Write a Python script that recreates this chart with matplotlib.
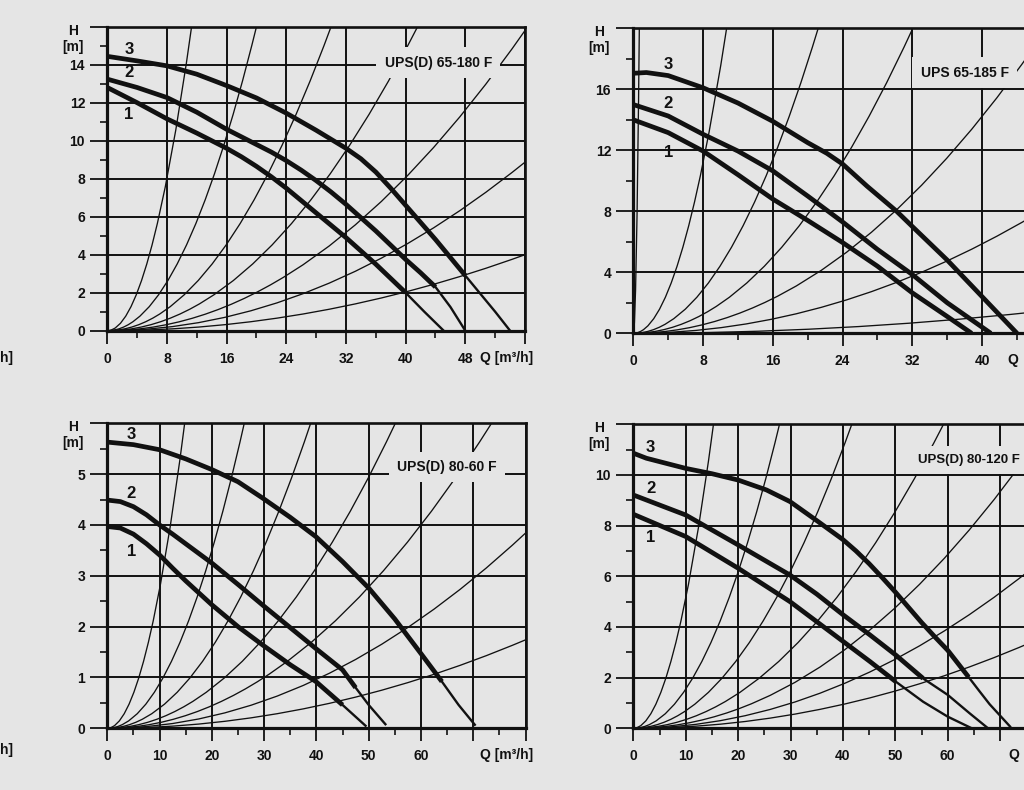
import matplotlib
matplotlib.use('Agg')
import matplotlib.pyplot as plt
from matplotlib.path import Path
from matplotlib.patches import PathPatch

W, H = 1024, 790
BG = '#e5e5e5'
INK = '#111111'

# ---- UPS(D) 65-180 F ----
p1_title = "UPS(D) 65-180 F"
p1_q1 = [0, 4, 8, 12, 14, 16, 18, 20, 22, 24, 26, 28, 30, 32, 34, 36, 38, 40, 42.5, 45.1]
p1_h1 = [12.8, 12.0, 11.15, 10.4, 10.0, 9.6, 9.15, 8.65, 8.1, 7.5, 6.85, 6.2, 5.55, 4.9, 4.2, 3.5, 2.75, 2.0, 1.0, 0.0]
p1_q2 = [0, 4, 8, 12, 16, 20, 22, 24, 26, 28, 30, 32, 34, 36, 38, 40, 42, 44, 46, 48]
p1_h2 = [13.24, 12.8, 12.27, 11.5, 10.6, 9.8, 9.4, 8.95, 8.45, 7.9, 7.3, 6.65, 5.95, 5.25, 4.5, 3.75, 3.05, 2.3, 1.25, 0.0]
p1_q3 = [0, 4, 8, 12, 16, 20, 24, 28, 32, 34, 36, 38, 40, 42, 44, 46, 48, 50, 52, 54]
p1_h3 = [14.44, 14.2, 13.94, 13.5, 12.9, 12.25, 11.45, 10.55, 9.6, 9.05, 8.35, 7.5, 6.6, 5.7, 4.8, 3.85, 2.9, 1.95, 1.0, 0.0]
p1_thick_end = [40, 44, 48]
p1_sys_q = [11.3, 20.0, 30.0, 41.6, 56, 56, 56]
p1_sys_h = [16, 16, 16, 16, 15.8, 8.87, 4.0]
p1_xlabels = ['0', '8', '16', '24', '32', '40', '48']

# ---- UPS 65-185 F ----
p2_title = "UPS 65-185 F"
p2_q1 = [0, 4, 8, 12, 16, 20, 24, 28, 32, 36, 38.8]
p2_h1 = [14.0, 13.16, 11.95, 10.4, 8.8, 7.4, 5.95, 4.4, 2.65, 1.1, 0.0]
p2_q2 = [0, 4, 8, 12, 16, 20, 24, 28, 32, 36, 41]
p2_h2 = [15.0, 14.25, 13.05, 11.95, 10.65, 9.0, 7.3, 5.5, 3.85, 2.0, 0.0]
p2_q3 = [0, 1.5, 4, 8, 12, 16, 20, 22.2, 24, 26.8, 30.2, 32, 36, 40, 44]
p2_h3 = [17.05, 17.1, 16.9, 16.1, 15.1, 13.9, 12.5, 11.8, 11.1, 9.65, 8.0, 7.0, 4.8, 2.4, 0.0]
p2_thick_end = [38.8, 41, 44]
p2_sys_q = [0.69, 10.7, 21.2, 32.05, 46, 46, 46]
p2_sys_h = [20, 20, 20, 20, 18.8, 7.75, 1.40]
p2_xlabels = ['0', '8', '16', '24', '32', '40']

# ---- UPS(D) 80-60 F ----
p3_title = "UPS(D) 80-60 F"
p3_q1 = [0, 2.5, 5, 7.5, 10, 12.5, 15, 20, 25, 29.7, 35, 39.9, 45, 49.4]
p3_h1 = [3.97, 3.94, 3.82, 3.63, 3.41, 3.15, 2.9, 2.43, 2.0, 1.64, 1.25, 0.92, 0.46, 0.05]
p3_q2 = [0, 2.5, 5, 7.5, 10, 12.5, 15, 20, 25, 30, 35, 40, 45, 47.5, 50, 53.2]
p3_h2 = [4.49, 4.46, 4.36, 4.2, 4.0, 3.82, 3.63, 3.25, 2.83, 2.4, 1.98, 1.56, 1.15, 0.8, 0.46, 0.08]
p3_q3 = [0, 5, 10, 15, 20, 25, 29.7, 35, 39.9, 45, 50, 55, 60, 64, 67.2, 70.3]
p3_h3 = [5.63, 5.58, 5.48, 5.3, 5.09, 4.85, 4.53, 4.15, 3.77, 3.28, 2.76, 2.15, 1.47, 0.92, 0.46, 0.07]
p3_thick_end = [45, 47.5, 64]
p3_sys_q = [14.8, 26.2, 38.9, 55.1, 73.5, 80, 80]
p3_sys_h = [6, 6, 6, 6, 6, 3.84, 1.74]
p3_xlabels = ['0', '10', '20', '30', '40', '50', '60']

# ---- UPS(D) 80-120 F ----
p4_title = "UPS(D) 80-120 F"
p4_q1 = [0, 10, 20, 29.9, 35, 40.1, 45.2, 50.1, 55.3, 60, 64.6]
p4_h1 = [8.45, 7.57, 6.32, 5.0, 4.21, 3.42, 2.63, 1.84, 1.05, 0.46, 0.0]
p4_q2 = [0, 10, 20, 29.9, 35, 40.1, 45.2, 50.1, 55.3, 60, 64.2, 67.7]
p4_h2 = [9.21, 8.42, 7.24, 6.05, 5.3, 4.47, 3.68, 2.89, 1.97, 1.32, 0.59, 0.0]
p4_q3 = [0, 2.5, 10, 15, 20, 25.4, 29.9, 35, 40, 42.5, 45, 47.5, 50, 52.5, 55, 57.5, 60, 62, 64, 66, 68, 70, 71.9]
p4_h3 = [10.86, 10.66, 10.26, 10.05, 9.8, 9.41, 8.95, 8.2, 7.45, 7.0, 6.5, 5.95, 5.38, 4.78, 4.18, 3.62, 3.08, 2.55, 2.02, 1.48, 0.95, 0.5, 0.07]
p4_thick_end = [50.1, 55.3, 64]
p4_sys_q = [15.3, 27.9, 41.7, 59.2, 76, 76, 76]
p4_sys_h = [12, 12, 12, 12, 11.0, 6.3, 3.4]
p4_xlabels = ['0', '10', '20', '30', '40', '50', '60']

curve_names = ['1', '2', '3']

plt.rcParams['font.family'] = ['Liberation Sans', 'DejaVu Sans']
plt.rcParams['font.weight'] = 'bold'

panels = [
    dict(title=p1_title, curves=[(p1_q1, p1_h1), (p1_q2, p1_h2), (p1_q3, p1_h3)],
         thick=p1_thick_end, sys=(p1_sys_q, p1_sys_h), xlabels=p1_xlabels,
         rect=(107.3, 26.7, 525, 330.7), xmax=56, ymax=16, xs=8, ys=2,
         name_pos=[(2.9, 11.4), (2.9, 13.6), (2.9, 14.8)],
         title_pos=(44.4, 14.1), title_ha='center', title_fs=10,
         qlab=(50, 'Q [m³/h]')),
    dict(title=p2_title, curves=[(p2_q1, p2_h1), (p2_q2, p2_h2), (p2_q3, p2_h3)],
         thick=p2_thick_end, sys=(p2_sys_q, p2_sys_h), xlabels=p2_xlabels,
         rect=(633.3, 28.3, 1051.9, 333.3), xmax=48, ymax=20, xs=8, ys=4,
         name_pos=[(4, 11.85), (4, 15.1), (4, 17.65)],
         title_pos=(38.0, 17.1), title_ha='center', title_fs=10,
         qlab=(42.9, 'Q')),
    dict(title=p3_title, curves=[(p3_q1, p3_h1), (p3_q2, p3_h2), (p3_q3, p3_h3)],
         thick=p3_thick_end, sys=(p3_sys_q, p3_sys_h), xlabels=p3_xlabels,
         rect=(107.3, 423.3, 525.5, 728.3), xmax=80, ymax=6, xs=10, ys=1,
         name_pos=[(4.6, 3.48), (4.6, 4.61), (4.6, 5.77)],
         title_pos=(65.0, 5.14), title_ha='center', title_fs=10,
         qlab=(71.3, 'Q [m³/h]')),
    dict(title=p4_title, curves=[(p4_q1, p4_h1), (p4_q2, p4_h2), (p4_q3, p4_h3)],
         thick=p4_thick_end, sys=(p4_sys_q, p4_sys_h), xlabels=p4_xlabels,
         rect=(633.3, 424.3, 1052.5, 728.3), xmax=80, ymax=12, xs=10, ys=2,
         name_pos=[(3.3, 7.53), (3.3, 9.45), (3.3, 11.1)],
         title_pos=(54.4, 10.6), title_ha='left', title_fs=9.5,
         qlab=(71.5, 'Q')),
]

fig = plt.figure(figsize=(W / 100, H / 100), dpi=100, facecolor=BG)

for p in panels:
    l, t, r, b = p['rect']
    ax = fig.add_axes([l / W, 1 - b / H, (r - l) / W, (b - t) / H])
    ax.set_facecolor(BG)
    ax.set_xlim(0, p['xmax'])
    ax.set_ylim(0, p['ymax'])

    xt = list(range(0, p['xmax'] + 1, p['xs']))
    yt = list(range(0, p['ymax'] + 1, p['ys']))
    xl = p['xlabels'] + [''] * (len(xt) - len(p['xlabels']))
    yl = [str(v) for v in yt[:-1]] + ['']
    ax.set_xticks(xt, xl)
    ax.set_yticks(yt, yl)
    ax.set_xticks([v + p['xs'] / 2 for v in xt[:-1]], minor=True)
    ax.set_yticks([v + p['ys'] / 2 for v in yt[:-1]], minor=True)
    ax.tick_params(axis='x', which='major', length=9, width=1.3, pad=6,
                   colors=INK, labelsize=10)
    ax.tick_params(axis='y', which='major', length=12, width=1.3, pad=4,
                   colors=INK, labelsize=10)
    ax.tick_params(which='minor', length=5, width=1.2, colors=INK)
    ax.set_axisbelow(True)
    ax.grid(True, which='major', color=INK, lw=1.4)
    for side in ['left', 'bottom']:
        ax.spines[side].set_linewidth(2.3)
        ax.spines[side].set_color(INK)
    for side in ['top', 'right']:
        ax.spines[side].set_linewidth(1.9)
        ax.spines[side].set_color(INK)

    # system curves (parabolas through the origin)
    sq, sh = p['sys']
    for q_end, h_end in zip(sq, sh):
        path = Path([(0, 0), (q_end / 2, 0), (q_end, h_end)],
                    [Path.MOVETO, Path.CURVE3, Path.CURVE3])
        ax.add_patch(PathPatch(path, fill=False, ec=INK, lw=0.95, zorder=2))

    # pump curves 1, 2, 3
    for (q, h), qe in zip(p['curves'], p['thick']):
        thick = [(a, c) for a, c in zip(q, h) if a <= qe]
        thin = [(a, c) for a, c in zip(q, h) if a >= qe]
        ax.plot([a for a, c in thick], [c for a, c in thick], color=INK, lw=3.4,
                solid_joinstyle='round', solid_capstyle='butt', zorder=3)
        if len(thin) > 1:
            ax.plot([a for a, c in thin], [c for a, c in thin], color=INK, lw=1.7,
                    solid_joinstyle='round', zorder=3)

    for name, (nx, ny) in zip(curve_names, p['name_pos']):
        ax.text(nx, ny, name, fontsize=12, ha='center', va='center', color=INK, zorder=4)

    tx, ty = p['title_pos']
    ax.text(tx, ty, p['title'], fontsize=p['title_fs'], ha=p['title_ha'], va='center',
            color=INK, zorder=6,
            bbox=dict(boxstyle='square,pad=0.6', fc=BG, ec='none'))

    qx, qtext = p['qlab']
    ax.annotate(qtext, xy=(qx, 0), xycoords='data', xytext=(0, -19.5),
                textcoords='offset points', ha='left', va='center', fontsize=10,
                color=INK, annotation_clip=False)

    fig.text((l - 34) / W, 1 - (t + 4) / H, 'H', ha='center', va='center',
             fontsize=10, color=INK)
    fig.text((l - 34) / W, 1 - (t + 20) / H, '[m]', ha='center', va='center',
             fontsize=10, color=INK)

# fragments of the neighbouring column cut by the scan
fig.text(0, 1 - 358 / H, 'h]', ha='left', va='center', fontsize=10, color=INK)
fig.text(0, 1 - 750 / H, 'h]', ha='left', va='center', fontsize=10, color=INK)

fig.savefig('out.png', dpi=100, facecolor=BG)
